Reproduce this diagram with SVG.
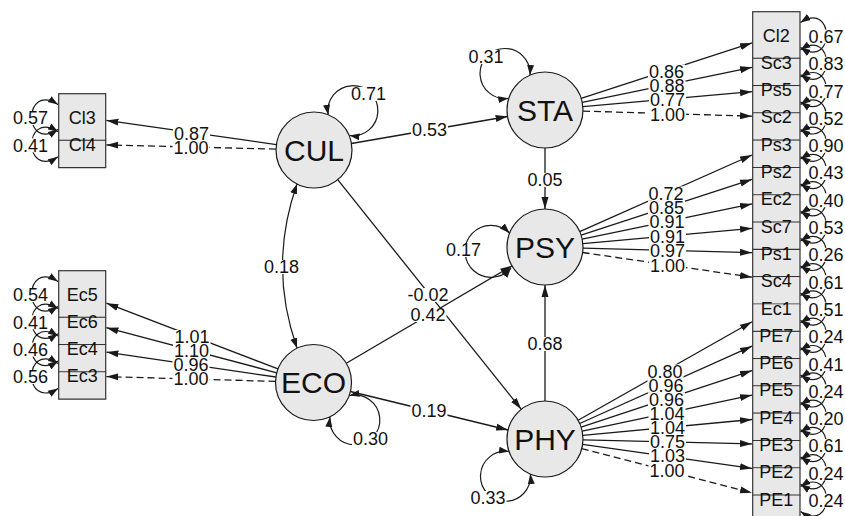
<svg xmlns="http://www.w3.org/2000/svg" width="845" height="516" viewBox="0 0 845 516">
<style>
.ln{fill:none;stroke:#1a1a1a;stroke-width:1.3;marker-end:url(#ah)}
.d{stroke-dasharray:7,4}
.lp{fill:none;stroke:#1a1a1a;stroke-width:1.2;marker-start:url(#ahs);marker-end:url(#ahs)}
.lat{fill:#e8e8e8;stroke:#1a1a1a;stroke-width:1.2}
.tl{font-family:"Liberation Sans",Arial,sans-serif;font-size:30px;fill:#111;text-anchor:middle}
.tm{font-family:"Liberation Sans",Arial,sans-serif;font-size:18px;fill:#111;text-anchor:middle}
.bf{fill:#e8e8e8;stroke:none}
.bx{fill:#e8e8e8;stroke:#333;stroke-width:1.2}
.bo{fill:none;stroke:#333;stroke-width:1.2}
.lbg{fill:#fff}
</style>
<defs>
<marker id="ah" markerUnits="userSpaceOnUse" markerWidth="12" markerHeight="8" viewBox="0 0 12 8" refX="12" refY="4" orient="auto-start-reverse"><path d="M0,0.5 L12,4 L0,7.5 z" fill="#1a1a1a"/></marker>
<marker id="ahs" markerUnits="userSpaceOnUse" markerWidth="10" markerHeight="8" viewBox="0 0 10 8" refX="10" refY="4" orient="auto-start-reverse"><path d="M0,0.5 L10,4 L0,7.5 z" fill="#1a1a1a"/></marker>
</defs>

<!-- manifest boxes: left -->
<g id="Cl3"><rect class="bx" x="58.7" y="93.7" width="47" height="46.6"/><text class="tm" x="82.2" y="123.5">Cl3</text></g>
<g id="Cl4"><rect class="bf" x="58.7" y="140.9" width="47" height="26.7"/><path class="bo" d="M58.7,140.3V167.6H105.7V140.3"/><text class="tm" x="82.2" y="150.8">Cl4</text></g>
<g id="Ec5"><rect class="bx" x="58.7" y="270.7" width="47" height="46.6"/><text class="tm" x="82.2" y="300.5">Ec5</text></g>
<g id="Ec6"><rect class="bf" x="58.7" y="317.9" width="47" height="26.7"/><path class="bo" d="M58.7,317.3V344.6H105.7V317.3"/><text class="tm" x="82.2" y="327.8">Ec6</text></g>
<g id="Ec4"><rect class="bf" x="58.7" y="345.2" width="47" height="26.7"/><path class="bo" d="M58.7,344.6V371.9H105.7V344.6"/><text class="tm" x="82.2" y="355.1">Ec4</text></g>
<g id="Ec3"><rect class="bf" x="58.7" y="372.5" width="47" height="26.7"/><path class="bo" d="M58.7,371.9V399.2H105.7V371.9"/><text class="tm" x="82.2" y="382.4">Ec3</text></g>

<!-- manifest boxes: right -->
<g id="Cl2"><rect class="bx" x="752.7" y="11.7" width="47.3" height="46.6"/><text class="tm" x="776.3" y="41.5">Cl2</text></g>
<g id="Sc3"><rect class="bf" x="752.7" y="58.9" width="47.3" height="26.7"/><path class="bo" d="M752.7,58.3V85.6H800V58.3"/><text class="tm" x="776.3" y="68.8">Sc3</text></g>
<g id="Ps5"><rect class="bf" x="752.7" y="86.2" width="47.3" height="26.7"/><path class="bo" d="M752.7,85.6V112.9H800V85.6"/><text class="tm" x="776.3" y="96.1">Ps5</text></g>
<g id="Sc2"><rect class="bf" x="752.7" y="113.5" width="47.3" height="26.7"/><path class="bo" d="M752.7,112.9V140.2H800V112.9"/><text class="tm" x="776.3" y="123.4">Sc2</text></g>
<g id="Ps3"><rect class="bf" x="752.7" y="140.8" width="47.3" height="26.7"/><path class="bo" d="M752.7,140.2V167.5H800V140.2"/><text class="tm" x="776.3" y="150.7">Ps3</text></g>
<g id="Ps2"><rect class="bf" x="752.7" y="168.1" width="47.3" height="26.7"/><path class="bo" d="M752.7,167.5V194.8H800V167.5"/><text class="tm" x="776.3" y="178">Ps2</text></g>
<g id="Ec2"><rect class="bf" x="752.7" y="195.4" width="47.3" height="26.7"/><path class="bo" d="M752.7,194.8V222.1H800V194.8"/><text class="tm" x="776.3" y="205.3">Ec2</text></g>
<g id="Sc7"><rect class="bf" x="752.7" y="222.7" width="47.3" height="26.7"/><path class="bo" d="M752.7,222.1V249.4H800V222.1"/><text class="tm" x="776.3" y="232.6">Sc7</text></g>
<g id="Ps1"><rect class="bf" x="752.7" y="250" width="47.3" height="26.7"/><path class="bo" d="M752.7,249.4V276.7H800V249.4"/><text class="tm" x="776.3" y="259.9">Ps1</text></g>
<g id="Sc4"><rect class="bf" x="752.7" y="277.3" width="47.3" height="26.7"/><path class="bo" d="M752.7,276.7V304H800V276.7"/><text class="tm" x="776.3" y="287.2">Sc4</text></g>
<g id="Ec1"><rect class="bf" x="752.7" y="304.6" width="47.3" height="26.7"/><path class="bo" d="M752.7,304V331.3H800V304"/><text class="tm" x="776.3" y="314.5">Ec1</text></g>
<g id="PE7"><rect class="bf" x="752.7" y="331.9" width="47.3" height="26.7"/><path class="bo" d="M752.7,331.3V358.6H800V331.3"/><text class="tm" x="776.3" y="341.8">PE7</text></g>
<g id="PE6"><rect class="bf" x="752.7" y="359.2" width="47.3" height="26.7"/><path class="bo" d="M752.7,358.6V385.9H800V358.6"/><text class="tm" x="776.3" y="369.1">PE6</text></g>
<g id="PE5"><rect class="bf" x="752.7" y="386.5" width="47.3" height="26.7"/><path class="bo" d="M752.7,385.9V413.2H800V385.9"/><text class="tm" x="776.3" y="396.4">PE5</text></g>
<g id="PE4"><rect class="bf" x="752.7" y="413.8" width="47.3" height="26.7"/><path class="bo" d="M752.7,413.2V440.5H800V413.2"/><text class="tm" x="776.3" y="423.7">PE4</text></g>
<g id="PE3"><rect class="bf" x="752.7" y="441.1" width="47.3" height="26.7"/><path class="bo" d="M752.7,440.5V467.8H800V440.5"/><text class="tm" x="776.3" y="451">PE3</text></g>
<g id="PE2"><rect class="bf" x="752.7" y="468.4" width="47.3" height="26.7"/><path class="bo" d="M752.7,467.8V495.1H800V467.8"/><text class="tm" x="776.3" y="478.3">PE2</text></g>
<g id="PE1"><rect class="bf" x="752.7" y="495.7" width="47.3" height="26.7"/><path class="bo" d="M752.7,495.1V522.4H800V495.1"/><text class="tm" x="776.3" y="505.6">PE1</text></g>

<!-- latent nodes -->
<g id="CUL"><circle class="lat" cx="314" cy="150" r="38"/><text class="tl" x="314" y="160.5">CUL</text></g>
<g id="ECO"><circle class="lat" cx="313.5" cy="382.5" r="38"/><text class="tl" x="313.5" y="393">ECO</text></g>
<g id="STA"><circle class="lat" cx="545" cy="110" r="38"/><text class="tl" x="545" y="121">STA</text></g>
<g id="PSY"><circle class="lat" cx="545" cy="247" r="38"/><text class="tl" x="545" y="258">PSY</text></g>
<g id="PHY"><circle class="lat" cx="545" cy="439" r="38"/><text class="tl" x="545" y="450">PHY</text></g>

<g id="connectors">
<!-- structural -->
<path class="ln" d="M351.4,143.5L507.6,116.5"/>
<path class="ln" d="M337.7,179.7L521.3,409.3"/>
<path class="ln" d="M346.3,363.3L512.2,265.8"/>
<path class="ln" d="M350.4,391.5L508.1,430"/>
<path class="ln" d="M545,148L545,209"/>
<path class="ln" d="M545,401L545,285"/>
<path class="lp" d="M297,184Q268,266 297,348"/>
<!-- latent variances -->
<path class="lp" d="M328.2,114.8A25,25 0 1 1 349.5,135.5"/>
<path class="lp" d="M508.3,98.3A25,25 0 1 1 530,75"/>
<path class="lp" d="M509.5,233A26,26 0 1 0 511,268"/>
<path class="lp" d="M349.5,395.5A25,25 0 1 1 330,417"/>
<path class="lp" d="M509,451.5A25,25 0 1 0 530.4,474"/>
<!-- left loadings -->
<path class="ln" d="M276.4,144.6L106.4,120.4"/>
<path class="ln d" d="M276,149.1L106.4,144.9"/>
<path class="ln" d="M278,368.9L106.4,303.2"/>
<path class="ln" d="M276.8,372.8L106.4,327.7"/>
<path class="ln" d="M275.9,377L106.4,352.1"/>
<path class="ln d" d="M275.5,381.4L106.4,376.6"/>
<!-- right loadings -->
<path class="ln" d="M581.1,98.3L752,42.9"/>
<path class="ln" d="M582.2,102.3L752,67.3"/>
<path class="ln" d="M582.9,106.7L752,91.7"/>
<path class="ln d" d="M583,111.1L752,116.2"/>
<path class="ln" d="M579.7,231.6L752,155"/>
<path class="ln" d="M581.1,235.2L752,179.4"/>
<path class="ln" d="M582.2,239.2L752,203.9"/>
<path class="ln" d="M582.9,243.6L752,228.3"/>
<path class="ln" d="M583,248.1L752,252.7"/>
<path class="ln d" d="M582.6,252.5L752,277.2"/>
<path class="ln" d="M578.1,420.3L752,321.8"/>
<path class="ln" d="M579.7,423.5L752,346.2"/>
<path class="ln" d="M581.1,427.1L752,370.6"/>
<path class="ln" d="M582.2,431.1L752,395.1"/>
<path class="ln" d="M582.8,435.4L752,419.5"/>
<path class="ln" d="M583,439.9L752,443.9"/>
<path class="ln" d="M582.6,444.3L752,468.4"/>
<path class="ln d" d="M581.8,448.6L752,492.8"/>
<!-- manifest residual loops: left -->
<path class="lp" d="M58,104.5C23,82 23,152 58,129.5"/>
<path class="lp" d="M58,131.8C23,109.3 23,179.3 58,156.8"/>
<path class="lp" d="M58,281.5C23,259 23,329 58,306.5"/>
<path class="lp" d="M58,308.8C23,286.3 23,356.3 58,333.8"/>
<path class="lp" d="M58,336.1C23,313.6 23,383.6 58,361.1"/>
<path class="lp" d="M58,363.4C23,340.9 23,410.9 58,388.4"/>
<!-- manifest residual loops: right -->
<path class="lp" d="M800.5,22.5C835,0 835,70 800.5,47.5"/>
<path class="lp" d="M800.5,49.8C835,27.3 835,97.3 800.5,74.8"/>
<path class="lp" d="M800.5,77.1C835,54.6 835,124.6 800.5,102.1"/>
<path class="lp" d="M800.5,104.4C835,81.9 835,151.9 800.5,129.4"/>
<path class="lp" d="M800.5,131.7C835,109.2 835,179.2 800.5,156.7"/>
<path class="lp" d="M800.5,159C835,136.5 835,206.5 800.5,184"/>
<path class="lp" d="M800.5,186.3C835,163.8 835,233.8 800.5,211.3"/>
<path class="lp" d="M800.5,213.6C835,191.1 835,261.1 800.5,238.6"/>
<path class="lp" d="M800.5,240.9C835,218.4 835,288.4 800.5,265.9"/>
<path class="lp" d="M800.5,268.2C835,245.7 835,315.7 800.5,293.2"/>
<path class="lp" d="M800.5,295.5C835,273 835,343 800.5,320.5"/>
<path class="lp" d="M800.5,322.8C835,300.3 835,370.3 800.5,347.8"/>
<path class="lp" d="M800.5,350.1C835,327.6 835,397.6 800.5,375.1"/>
<path class="lp" d="M800.5,377.4C835,354.9 835,424.9 800.5,402.4"/>
<path class="lp" d="M800.5,404.7C835,382.2 835,452.2 800.5,429.7"/>
<path class="lp" d="M800.5,432C835,409.5 835,479.5 800.5,457"/>
<path class="lp" d="M800.5,459.3C835,436.8 835,506.8 800.5,484.3"/>
<path class="lp" d="M800.5,486.6C835,464.1 835,534.1 800.5,511.6"/>
</g>

<g id="labels">
<!-- structural -->
<rect class="lbg" x="411" y="123" width="37" height="14"/><text class="tm" x="429.5" y="136.4">0.53</text>
<rect class="lbg" x="406.5" y="288" width="43" height="14"/><text class="tm" x="428" y="301.4">-0.02</text>
<rect class="lbg" x="409.5" y="308" width="37" height="14"/><text class="tm" x="428" y="321.4">0.42</text>
<rect class="lbg" x="410.5" y="404" width="37" height="14"/><text class="tm" x="429" y="417.4">0.19</text>
<rect class="lbg" x="526.5" y="173" width="37" height="14"/><text class="tm" x="545" y="186.4">0.05</text>
<rect class="lbg" x="526.5" y="337" width="37" height="14"/><text class="tm" x="545" y="350.4">0.68</text>
<rect class="lbg" x="263" y="260" width="37" height="14"/><text class="tm" x="281.5" y="273.4">0.18</text>
<!-- latent variances -->
<rect class="lbg" x="350" y="87" width="37" height="14"/><text class="tm" x="368.5" y="100.4">0.71</text>
<rect class="lbg" x="467.5" y="50" width="37" height="14"/><text class="tm" x="486" y="63.4">0.31</text>
<rect class="lbg" x="445" y="243" width="37" height="14"/><text class="tm" x="463.5" y="256.4">0.17</text>
<rect class="lbg" x="352" y="432" width="37" height="14"/><text class="tm" x="370.5" y="445.4">0.30</text>
<rect class="lbg" x="469.5" y="491" width="37" height="14"/><text class="tm" x="488" y="504.4">0.33</text>
<!-- left loadings -->
<rect class="lbg" x="173" y="126.5" width="37" height="14"/><text class="tm" x="191.5" y="139.9">0.87</text>
<rect class="lbg" x="172.5" y="140.5" width="37" height="14"/><text class="tm" x="191" y="153.9">1.00</text>
<rect class="lbg" x="173.5" y="330" width="37" height="14"/><text class="tm" x="192" y="343.4">1.01</text>
<rect class="lbg" x="173" y="344" width="37" height="14"/><text class="tm" x="191.5" y="357.4">1.10</text>
<rect class="lbg" x="172.5" y="358" width="37" height="14"/><text class="tm" x="191" y="371.4">0.96</text>
<rect class="lbg" x="172.5" y="372" width="37" height="14"/><text class="tm" x="191" y="385.4">1.00</text>
<!-- right loadings -->
<rect class="lbg" x="648" y="64.5" width="37" height="14"/><text class="tm" x="666.5" y="77.9">0.86</text>
<rect class="lbg" x="648.5" y="79" width="37" height="14"/><text class="tm" x="667" y="92.4">0.88</text>
<rect class="lbg" x="649" y="93" width="37" height="14"/><text class="tm" x="667.5" y="106.4">0.77</text>
<rect class="lbg" x="649" y="107.5" width="37" height="14"/><text class="tm" x="667.5" y="120.9">1.00</text>
<rect class="lbg" x="647.5" y="186.5" width="37" height="14"/><text class="tm" x="666" y="199.9">0.72</text>
<rect class="lbg" x="648" y="200.5" width="37" height="14"/><text class="tm" x="666.5" y="213.9">0.85</text>
<rect class="lbg" x="648.5" y="215" width="37" height="14"/><text class="tm" x="667" y="228.4">0.91</text>
<rect class="lbg" x="649" y="229.5" width="37" height="14"/><text class="tm" x="667.5" y="242.9">0.91</text>
<rect class="lbg" x="649" y="244" width="37" height="14"/><text class="tm" x="667.5" y="257.4">0.97</text>
<rect class="lbg" x="649" y="258.5" width="37" height="14"/><text class="tm" x="667.5" y="271.9">1.00</text>
<rect class="lbg" x="646.5" y="364.5" width="37" height="14"/><text class="tm" x="665" y="377.9">0.80</text>
<rect class="lbg" x="647.5" y="378.5" width="37" height="14"/><text class="tm" x="666" y="391.9">0.96</text>
<rect class="lbg" x="648" y="392.5" width="37" height="14"/><text class="tm" x="666.5" y="405.9">0.96</text>
<rect class="lbg" x="648.5" y="406.5" width="37" height="14"/><text class="tm" x="667" y="419.9">1.04</text>
<rect class="lbg" x="649" y="420.5" width="37" height="14"/><text class="tm" x="667.5" y="433.9">1.04</text>
<rect class="lbg" x="649" y="435" width="37" height="14"/><text class="tm" x="667.5" y="448.4">0.75</text>
<rect class="lbg" x="649" y="449" width="37" height="14"/><text class="tm" x="667.5" y="462.4">1.03</text>
<rect class="lbg" x="648.5" y="463.5" width="37" height="14"/><text class="tm" x="667" y="476.9">1.00</text>
<!-- left residuals -->
<rect class="lbg" x="12" y="111" width="37" height="14"/><text class="tm" x="30.5" y="124.4">0.57</text>
<rect class="lbg" x="12" y="138.3" width="37" height="14"/><text class="tm" x="30.5" y="151.7">0.41</text>
<rect class="lbg" x="12" y="288" width="37" height="14"/><text class="tm" x="30.5" y="301.4">0.54</text>
<rect class="lbg" x="12" y="315.3" width="37" height="14"/><text class="tm" x="30.5" y="328.7">0.41</text>
<rect class="lbg" x="12" y="342.6" width="37" height="14"/><text class="tm" x="30.5" y="356">0.46</text>
<rect class="lbg" x="12" y="369.9" width="37" height="14"/><text class="tm" x="30.5" y="383.3">0.56</text>
<!-- right residuals -->
<rect class="lbg" x="807.5" y="29.5" width="37" height="14"/><text class="tm" x="826" y="42.9">0.67</text>
<rect class="lbg" x="807.5" y="56.8" width="37" height="14"/><text class="tm" x="826" y="70.2">0.83</text>
<rect class="lbg" x="807.5" y="84.1" width="37" height="14"/><text class="tm" x="826" y="97.5">0.77</text>
<rect class="lbg" x="807.5" y="111.4" width="37" height="14"/><text class="tm" x="826" y="124.8">0.52</text>
<rect class="lbg" x="807.5" y="138.7" width="37" height="14"/><text class="tm" x="826" y="152.1">0.90</text>
<rect class="lbg" x="807.5" y="166" width="37" height="14"/><text class="tm" x="826" y="179.4">0.43</text>
<rect class="lbg" x="807.5" y="193.3" width="37" height="14"/><text class="tm" x="826" y="206.7">0.40</text>
<rect class="lbg" x="807.5" y="220.6" width="37" height="14"/><text class="tm" x="826" y="234">0.53</text>
<rect class="lbg" x="807.5" y="247.9" width="37" height="14"/><text class="tm" x="826" y="261.3">0.26</text>
<rect class="lbg" x="807.5" y="275.2" width="37" height="14"/><text class="tm" x="826" y="288.6">0.61</text>
<rect class="lbg" x="807.5" y="302.5" width="37" height="14"/><text class="tm" x="826" y="315.9">0.51</text>
<rect class="lbg" x="807.5" y="329.8" width="37" height="14"/><text class="tm" x="826" y="343.2">0.24</text>
<rect class="lbg" x="807.5" y="357.1" width="37" height="14"/><text class="tm" x="826" y="370.5">0.41</text>
<rect class="lbg" x="807.5" y="384.4" width="37" height="14"/><text class="tm" x="826" y="397.8">0.24</text>
<rect class="lbg" x="807.5" y="411.7" width="37" height="14"/><text class="tm" x="826" y="425.1">0.20</text>
<rect class="lbg" x="807.5" y="439" width="37" height="14"/><text class="tm" x="826" y="452.4">0.61</text>
<rect class="lbg" x="807.5" y="466.3" width="37" height="14"/><text class="tm" x="826" y="479.7">0.24</text>
<rect class="lbg" x="807.5" y="493.6" width="37" height="14"/><text class="tm" x="826" y="507">0.24</text>
</g>
</svg>
